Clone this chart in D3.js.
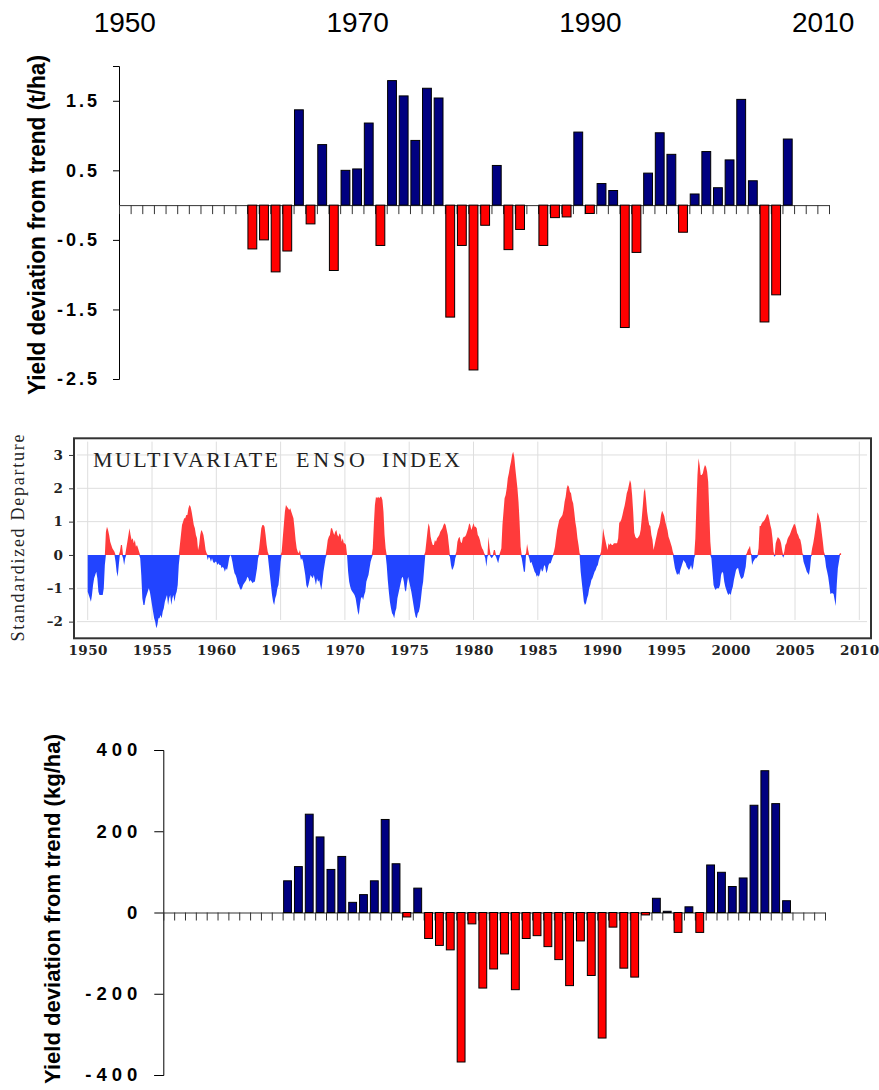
<!DOCTYPE html>
<meta charset="utf-8">
<script src="https://cdn.jsdelivr.net/npm/d3@7"></script>
<style>
  body { margin: 0; background: #fff; }
  svg { display: block; }
</style>
<div id="chart"></div>
<script>
// ---- data ----
// yield panels: one bar per year, 1961-2007, on a 1950-2010 year grid
const years = d3.range(1961, 2008);
const slotYears = d3.range(1950, 2011);
const topYearLabels = [1950, 1970, 1990, 2010];

// yield deviation from trend, t/ha
const yieldTop = [
  -0.63, -0.50, -0.96, -0.66, 1.37, -0.27, 0.87, -0.94, 0.50, 0.52,
  1.18, -0.58, 1.79, 1.57, 0.93, 1.68, 1.54, -1.61, -0.58, -2.37,
  -0.29, 0.57, -0.64, -0.35, 0, -0.58, -0.18, -0.17, 1.05, -0.12,
  0.31, 0.21, -1.76, -0.68, 0.46, 1.04, 0.73, -0.39, 0.16, 0.77,
  0.25, 0.65, 1.52, 0.35, -1.68, -1.29, 0.95
];
// yield deviation from trend, kg/ha
const yieldBottom = [
  78, 113, 242, 186, 106, 138, 25, 44, 78, 229,
  120, -11, 60, -64, -81, -92, -368, -28, -186, -139,
  -102, -190, -64, -57, -84, -116, -180, -70, -155, -309,
  -36, -137, -159, -6, 35, 3, -49, 14, -49, 117,
  99, 64, 85, 264, 349, 268, 29
];
const topTicks = [1.5, 0.5, -0.5, -1.5, -2.5];
const bottomTicks = [400, 200, 0, -200, -400];

// multivariate ENSO index, monthly from Jan 1950
const meiStart = 1950;
const meiRows = [
  [-1.1,-1.2,-1.3,-1.4,-1.2,-0.9,-0.7,-0.6,-0.5,-0.7,-1.1,-1.2], // 1950
  [-1.2,-1.2,-1.2,-1.0,-0.3,0.7,0.85,0.75,0.6,0.4,0.3,0.2],
  [0.15,0.1,-0.2,-0.5,-0.65,-0.3,0.1,0.3,0.3,-0.1,-0.3,-0.1],
  [0.2,0.4,0.6,0.8,0.6,0.45,0.5,0.35,0.45,0.25,0.3,0.2],
  [0.1,-0.1,-0.6,-1.3,-1.5,-1.5,-1.3,-1.2,-1.1,-1.0,-1.1,-1.3],
  [-1.5,-1.7,-1.9,-2.0,-2.2,-2.1,-1.9,-1.9,-1.8,-1.9,-1.7,-1.6],
  [-1.4,-1.3,-1.2,-1.5,-1.3,-1.2,-1.5,-1.3,-1.2,-1.4,-1.2,-1.1],
  [-0.9,-0.3,0.3,0.6,0.9,1.0,1.1,1.1,1.2,1.2,1.4,1.5],
  [1.45,1.3,1.1,0.9,0.8,0.6,0.5,0.15,0.3,0.6,0.75,0.7],
  [0.6,0.4,0.15,0.05,-0.15,-0.05,-0.1,-0.2,-0.1,-0.2,-0.25,-0.2],
  [-0.2,-0.3,-0.25,-0.3,-0.3,-0.4,-0.35,-0.4,-0.5,-0.4,-0.45,-0.3], // 1960
  [-0.1,0.0,-0.05,-0.2,-0.4,-0.55,-0.6,-0.7,-0.85,-0.9,-1.0,-1.05],
  [-1.0,-0.9,-0.85,-0.8,-0.75,-0.65,-0.7,-0.8,-0.75,-0.8,-0.85,-0.8],
  [-0.8,-0.6,-0.4,-0.1,0.2,0.5,0.8,0.9,0.9,0.85,0.6,0.3],
  [0.1,-0.3,-0.6,-0.9,-1.2,-1.4,-1.5,-1.3,-1.2,-1.0,-0.9,-0.6],
  [-0.2,0.1,0.5,0.9,1.3,1.5,1.45,1.4,1.35,1.4,1.3,1.2],
  [1.1,0.8,0.45,0.2,0.1,0.05,0.15,-0.15,-0.1,-0.2,-0.4,-0.6],
  [-0.9,-1.0,-0.9,-0.75,-0.6,-0.65,-0.7,-0.6,-0.75,-0.9,-0.7,-0.8],
  [-0.75,-0.9,-1.05,-0.8,-0.5,-0.3,-0.1,0.2,0.45,0.55,0.6,0.8],
  [0.8,0.7,0.6,0.7,0.75,0.6,0.55,0.65,0.6,0.4,0.5,0.35],
  [0.35,0.3,0.0,-0.5,-0.8,-0.95,-1.05,-1.1,-1.15,-1.2,-1.3,-1.5], // 1970
  [-1.7,-1.8,-1.5,-1.3,-1.25,-1.35,-1.2,-1.1,-0.8,-0.7,-0.6,-0.4],
  [-0.2,-0.1,0.2,0.9,1.5,1.75,1.7,1.75,1.7,1.75,1.75,1.65],
  [1.3,0.6,0.2,-0.3,-0.75,-1.1,-1.4,-1.6,-1.75,-1.8,-1.9,-1.7],
  [-1.6,-1.3,-1.15,-1.0,-0.85,-0.7,-0.65,-0.8,-1.05,-1.1,-0.85,-0.65],
  [-0.8,-0.95,-1.1,-1.3,-1.5,-1.7,-1.85,-1.9,-1.75,-1.7,-1.55,-1.3],
  [-1.0,-0.8,-0.4,0.1,0.4,0.7,0.95,0.85,0.55,0.4,0.3,0.3],
  [0.45,0.4,0.5,0.55,0.6,0.7,0.75,0.8,0.9,0.95,0.9,0.75],
  [0.6,0.3,-0.05,-0.3,-0.45,-0.4,-0.3,-0.1,0.1,0.4,0.5,0.55],
  [0.4,0.35,0.5,0.55,0.55,0.6,0.7,0.8,0.95,0.9,0.75,0.85],
  [0.95,0.85,0.85,0.8,0.6,0.55,0.45,0.3,0.2,0.15,0.05,-0.1], // 1980
  [-0.35,-0.05,0.55,0.2,-0.05,-0.1,-0.05,0.15,0.15,-0.05,-0.15,-0.25],
  [-0.1,0.1,0.2,0.9,1.3,1.7,1.8,2.0,2.3,2.45,2.65,2.8],
  [3.0,3.1,2.95,2.6,2.3,2.0,1.6,1.0,0.25,-0.1,-0.3,-0.5],
  [-0.5,0.05,0.33,0.15,-0.1,-0.25,-0.2,-0.3,-0.4,-0.5,-0.55,-0.65],
  [-0.6,-0.65,-0.55,-0.4,-0.5,-0.45,-0.3,-0.35,-0.55,-0.45,-0.3,-0.25],
  [-0.25,-0.15,-0.05,0.1,0.25,0.5,0.75,0.9,1.05,1.1,1.15,1.2],
  [1.35,1.6,1.75,2.0,2.1,2.05,1.9,1.85,1.65,1.55,1.3,1.0],
  [0.8,0.5,0.3,0.05,-0.5,-0.8,-1.1,-1.4,-1.5,-1.45,-1.3,-1.2],
  [-1.0,-0.9,-0.75,-0.7,-0.6,-0.5,-0.45,-0.35,-0.3,-0.15,-0.05,0.1],
  [0.4,0.8,0.6,0.45,0.3,0.15,0.35,0.3,0.35,0.3,0.3,0.35], // 1990
  [0.35,0.35,0.35,0.5,0.97,1.0,1.07,1.2,1.35,1.48,1.65,1.85],
  [1.95,2.1,2.25,2.15,1.8,1.3,0.67,0.55,0.5,0.5,0.55,0.6],
  [0.76,1.1,1.48,1.9,2.0,1.68,1.3,1.07,0.9,0.87,0.6,0.46],
  [0.15,0.3,0.46,0.6,0.76,0.85,0.97,1.2,1.33,1.25,1.17,1.0],
  [0.87,0.75,0.55,0.46,0.35,0.25,0.1,-0.2,-0.4,-0.5,-0.6,-0.55],
  [-0.6,-0.45,-0.35,-0.25,-0.15,-0.2,-0.25,-0.35,-0.4,-0.45,-0.4,-0.3],
  [-0.45,-0.35,-0.1,0.5,1.5,2.4,2.9,2.7,2.4,2.4,2.45,2.6],
  [2.7,2.65,2.5,2.2,1.3,0.4,-0.1,-0.5,-0.9,-1.0,-1.05,-1.0],
  [-1.0,-1.0,-0.9,-0.6,-0.5,-0.55,-0.8,-0.95,-1.05,-1.15,-1.2,-1.15],
  [-1.2,-1.05,-0.95,-0.75,-0.6,-0.45,-0.4,-0.4,-0.55,-0.65,-0.72,-0.7], // 2000
  [-0.65,-0.5,-0.35,0.05,0.15,0.2,0.28,0.05,-0.3,-0.2,-0.15,-0.1],
  [-0.1,-0.05,0.2,0.87,0.87,0.95,1.0,1.02,1.07,1.15,1.23,1.2],
  [1.07,0.9,0.77,0.5,0.1,-0.05,0.35,0.46,0.54,0.5,0.46,0.35],
  [0.15,-0.08,0.1,0.3,0.35,0.48,0.55,0.6,0.68,0.77,0.85,0.92],
  [0.92,0.82,0.66,0.6,0.5,0.46,0.3,0.05,-0.2,-0.3,-0.4,-0.5],
  [-0.55,-0.6,-0.4,-0.05,0.2,0.35,0.55,0.77,1.0,1.28,1.2,1.07],
  [0.95,0.66,0.4,0.1,-0.1,-0.36,-0.5,-0.66,-0.9,-1.17,-1.15,-1.15],
  [-1.17,-1.35,-1.53,-0.87,-0.4,-0.2,0.05,0.05] // 2008
];
const meiYTicks = [3, 2, 1, 0, -1, -2];
const meiXTicks = d3.range(1950, 2011, 5);

const mei = meiRows.flat().map((v, i) => ({ t: meiStart + i / 12, v: v }));

// ---- drawing ----
const W = 879, H = 1090;
const svg = d3.select("#chart").append("svg")
  .attr("width", W).attr("height", H);

const sans = '"Liberation Sans", Arial, sans-serif';
const serif = '"Liberation Serif", "Times New Roman", serif';

function barPanel(opt) {
  const x = d3.scaleBand(slotYears, opt.xRange);
  const xl = d3.scaleLinear([1950, 2011], opt.xRange);
  const y = d3.scaleLinear(opt.yDomain, opt.yRange);
  const g = svg.append("g");

  // y axis
  const gy = g.append("g")
    .attr("transform", `translate(${opt.xRange[0]},0)`)
    .call(d3.axisLeft(y).tickValues(opt.ticks).tickSizeOuter(0)
      .tickSize(opt.tickLen).tickPadding(opt.tickPad).tickFormat(opt.fmt));
  gy.select(".domain").attr("stroke", "#000");
  gy.selectAll(".tick line").attr("stroke", "#000");
  gy.selectAll(".tick text")
    .attr("font-family", sans).attr("font-weight", "bold")
    .attr("font-size", opt.fontSize).attr("fill", "#000")
    .style("letter-spacing", opt.ls + "px")
    .attr("dx", opt.ls);

  // zero line with year ticks
  const gx = g.append("g")
    .attr("transform", `translate(0,${y(0)})`)
    .call(d3.axisBottom(xl).tickValues(d3.range(1950, 2012))
      .tickSize(opt.xTickLen).tickSizeOuter(0).tickFormat(""));
  gx.select(".domain").attr("stroke", "#333");
  gx.selectAll(".tick line").attr("stroke", "#333");

  // bars
  const bw = x.bandwidth();
  g.selectAll("rect.bar")
    .data(years.map((yr, i) => ({ yr: yr, v: opt.values[i] })).filter(d => d.v !== 0))
    .join("rect")
    .attr("class", "bar")
    .attr("x", d => x(d.yr) + opt.inset)
    .attr("width", bw - 2 * opt.inset - 1)
    .attr("y", d => Math.min(y(d.v), y(0)))
    .attr("height", d => Math.abs(y(d.v) - y(0)))
    .attr("fill", d => d.v > 0 ? "#000080" : "#ff0000")
    .attr("stroke", "#000")
    .attr("stroke-width", 1);

  // rotated y label
  g.append("text")
    .attr("transform", `translate(${opt.labelX},${opt.labelY}) rotate(-90)`)
    .attr("text-anchor", "middle")
    .attr("font-family", sans).attr("font-weight", "bold")
    .attr("font-size", opt.labelSize)
    .attr("textLength", opt.labelLen)
    .attr("lengthAdjust", "spacingAndGlyphs")
    .text(opt.label);

  return x;
}

// top panel (t/ha)
const xTop = barPanel({
  xRange: [119, 829], yDomain: [-2.5, 2.0], yRange: [379, 66],
  ticks: topTicks, fmt: d => d.toFixed(1).replace("\u2212", "-"),
  tickLen: 6, tickPad: 16, fontSize: 18, ls: 3, xTickLen: 9,
  values: yieldTop, inset: 0.9,
  label: "Yield deviation from trend (t/ha)", labelX: 45, labelY: 225,
  labelLen: 340, labelSize: 23
});

// year labels above the top panel
svg.append("g").selectAll("text")
  .data(topYearLabels)
  .join("text")
  .attr("x", d => xTop(d) + xTop.bandwidth() / 2)
  .attr("y", 32)
  .attr("text-anchor", "middle")
  .attr("font-family", sans)
  .attr("font-size", 28)
  .attr("fill", "#000")
  .text(d => d);

// bottom panel (kg/ha)
barPanel({
  xRange: [163.3, 825], yDomain: [-400, 400], yRange: [1075, 750],
  ticks: bottomTicks, fmt: d => String(d),
  tickLen: 9, tickPad: 17, fontSize: 18.5, ls: 5, xTickLen: 8,
  values: yieldBottom, inset: 1.0,
  label: "Yield deviation from trend (kg/ha)", labelX: 60, labelY: 909,
  labelLen: 350, labelSize: 22.5
});

// ---- ENSO panel ----
const ex = d3.scaleLinear([1950, 2010], [87.7, 859.3]);
const ey = d3.scaleLinear([-2.5, 3.5], [638.3, 438.3]);
const frame = { x0: 74, x1: 871, y0: 438.3, y1: 638.3 };
const ge = svg.append("g");

ge.append("rect")
  .attr("x", frame.x0).attr("y", frame.y0)
  .attr("width", frame.x1 - frame.x0).attr("height", frame.y1 - frame.y0)
  .attr("fill", "#fff");

// light grid
ge.append("g").selectAll("line")
  .data(meiXTicks)
  .join("line")
  .attr("x1", d => ex(d)).attr("x2", d => ex(d))
  .attr("y1", ey(3.4)).attr("y2", ey(-1.95))
  .attr("stroke", "#dedede").attr("stroke-width", 1);
ge.append("g").selectAll("line")
  .data([3, 2, 1, -1, -2])
  .join("line")
  .attr("x1", frame.x0 + 3).attr("x2", frame.x1 - 4)
  .attr("y1", d => ey(d)).attr("y2", d => ey(d))
  .attr("stroke", "#dedede").attr("stroke-width", 1);

// positive and negative areas
const areaPos = d3.area()
  .x(d => ex(d.t)).y0(ey(0)).y1(d => ey(Math.max(0, d.v)));
const areaNeg = d3.area()
  .x(d => ex(d.t)).y0(ey(0)).y1(d => ey(Math.min(0, d.v)));
ge.append("path").datum(mei).attr("d", areaNeg).attr("fill", "#2244ff");
ge.append("path").datum(mei).attr("d", areaPos).attr("fill", "#ff3b3b");

// frame
ge.append("rect")
  .attr("x", frame.x0).attr("y", frame.y0)
  .attr("width", frame.x1 - frame.x0).attr("height", frame.y1 - frame.y0)
  .attr("fill", "none").attr("stroke", "#333").attr("stroke-width", 2);

// axes
const eyAxis = ge.append("g")
  .attr("transform", `translate(${frame.x0},0)`)
  .call(d3.axisLeft(ey).tickValues(meiYTicks).tickSize(5).tickPadding(6)
    .tickFormat(d => d < 0 ? "\u2013" + Math.abs(d) : String(d)));
eyAxis.select(".domain").remove();
eyAxis.selectAll(".tick line").attr("stroke", "#333");
eyAxis.selectAll(".tick text")
  .attr("font-family", '"DejaVu Serif", serif').attr("font-size", 13.5)
  .attr("font-weight", "bold").attr("fill", "#222");

const exAxis = ge.append("g")
  .attr("transform", `translate(0,${frame.y1})`)
  .call(d3.axisBottom(ex).tickValues(meiXTicks).tickSize(0).tickPadding(7)
    .tickFormat(d => String(d)));
exAxis.select(".domain").remove();
exAxis.selectAll(".tick text")
  .attr("font-family", '"DejaVu Serif", serif').attr("font-size", 13.5)
  .attr("font-weight", "bold").attr("fill", "#222")
  .style("letter-spacing", "0.5px");

// title, one text per word to keep the wide gaps
const titleWords = [["MULTIVARIATE", 93, 185], ["ENSO", 296, 69], ["INDEX", 382, 78]];
ge.append("g").selectAll("text")
  .data(titleWords)
  .join("text")
  .attr("x", d => d[1])
  .attr("y", 466.5)
  .attr("font-family", serif).attr("font-size", 22)
  .attr("fill", "#222")
  .attr("textLength", d => d[2])
  .attr("lengthAdjust", "spacing")
  .text(d => d[0]);

ge.append("text")
  .attr("transform", "translate(24,538) rotate(-90)")
  .attr("text-anchor", "middle")
  .attr("font-family", serif).attr("font-size", 18)
  .attr("fill", "#222")
  .attr("textLength", 207)
  .attr("lengthAdjust", "spacing")
  .text("Standardized Departure");
</script>
